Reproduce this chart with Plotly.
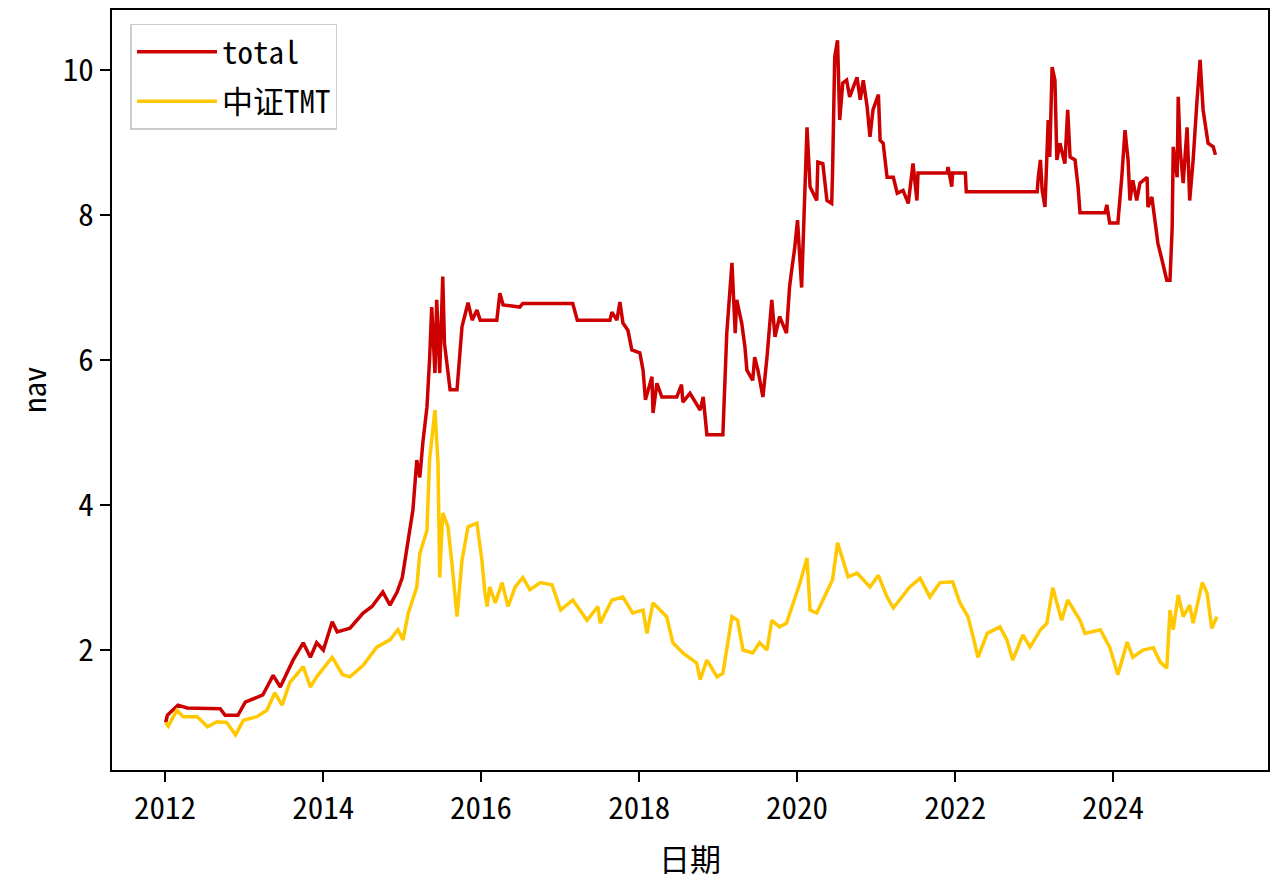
import plotly.graph_objects as go

# ---- data ----
total_dates = [
    "2012-01-04", "2012-01-12", "2012-03-01", "2012-04-12", "2012-09-12", "2012-10-05", "2012-12-03",
    "2013-01-06", "2013-03-28", "2013-05-15", "2013-06-17", "2013-08-15", "2013-10-01", "2013-11-03",
    "2013-12-02", "2014-01-02", "2014-02-12", "2014-03-07", "2014-05-05", "2014-07-05", "2014-08-15",
    "2014-10-04", "2014-11-06", "2014-12-09", "2015-01-02", "2015-01-23", "2015-02-20", "2015-03-10",
    "2015-03-24", "2015-04-07", "2015-04-26", "2015-05-08", "2015-05-18", "2015-06-02", "2015-06-10",
    "2015-06-24", "2015-07-08", "2015-07-16", "2015-08-11", "2015-09-12", "2015-10-05", "2015-11-02",
    "2015-11-21", "2015-12-13", "2015-12-28", "2016-03-14", "2016-03-28", "2016-04-12", "2016-06-28",
    "2016-07-12", "2017-02-28", "2017-03-21", "2017-08-19", "2017-08-28", "2017-09-20", "2017-10-04",
    "2017-10-18", "2017-11-10", "2017-11-28", "2018-01-04", "2018-01-19", "2018-01-30", "2018-03-01",
    "2018-03-06", "2018-03-24", "2018-04-16", "2018-06-24", "2018-07-16", "2018-07-22", "2018-08-24",
    "2018-10-10", "2018-10-24", "2018-11-10", "2019-01-23", "2019-02-10", "2019-03-06", "2019-03-21",
    "2019-03-28", "2019-04-20", "2019-05-05", "2019-05-14", "2019-06-10", "2019-06-19", "2019-07-04",
    "2019-07-27", "2019-08-15", "2019-09-06", "2019-09-21", "2019-10-12", "2019-11-13", "2019-11-27",
    "2019-12-07", "2019-12-20", "2020-01-03", "2020-01-22", "2020-02-16", "2020-03-01", "2020-04-01",
    "2020-04-06", "2020-04-29", "2020-05-18", "2020-06-09", "2020-06-13", "2020-06-23", "2020-07-06",
    "2020-07-16", "2020-07-30", "2020-08-17", "2020-08-31", "2020-10-04", "2020-10-19", "2020-11-02",
    "2020-11-20", "2020-12-03", "2020-12-17", "2021-01-11", "2021-01-19", "2021-02-02", "2021-02-20",
    "2021-03-21", "2021-04-08", "2021-05-05", "2021-05-29", "2021-06-20", "2021-07-08", "2021-07-13",
    "2021-11-24", "2021-11-29", "2021-12-16", "2021-12-20", "2022-02-17", "2022-02-21", "2023-01-15",
    "2023-01-20", "2023-01-30", "2023-02-07", "2023-02-20", "2023-03-07", "2023-03-14", "2023-03-25",
    "2023-04-07", "2023-04-16", "2023-04-30", "2023-05-23", "2023-06-05", "2023-06-16", "2023-07-09",
    "2023-07-23", "2023-08-01", "2023-11-24", "2023-12-03", "2023-12-16", "2024-01-23", "2024-02-10",
    "2024-02-25", "2024-03-10", "2024-03-19", "2024-04-01", "2024-04-19", "2024-05-04", "2024-06-06",
    "2024-06-10", "2024-06-28", "2024-07-12", "2024-07-26", "2024-08-14", "2024-09-05", "2024-09-20",
    "2024-09-30", "2024-10-05", "2024-10-23", "2024-10-28", "2024-11-06", "2024-11-20", "2024-12-08",
    "2024-12-20", "2025-01-05", "2025-01-23", "2025-02-06", "2025-02-20", "2025-03-15", "2025-04-08",
    "2025-04-18",
]
total_nav = [
    1.00, 1.10, 1.24, 1.20, 1.19, 1.10, 1.10,
    1.28, 1.38, 1.65, 1.49, 1.86, 2.10, 1.90,
    2.10, 2.00, 2.39, 2.25, 2.30, 2.51, 2.60,
    2.80, 2.62, 2.80, 3.00, 3.38, 3.93, 4.62,
    4.38, 4.86, 5.35, 6.00, 6.73, 5.82, 6.83,
    5.82, 7.15, 6.23, 5.59, 5.59, 6.46, 6.79,
    6.55, 6.69, 6.55, 6.55, 6.92, 6.76, 6.73,
    6.78, 6.78, 6.55, 6.55, 6.66, 6.55, 6.80,
    6.51, 6.41, 6.14, 6.10, 5.86, 5.45, 5.77,
    5.27, 5.68, 5.49, 5.49, 5.66, 5.42, 5.54,
    5.31, 5.49, 4.97, 4.97, 6.37, 7.34, 6.37,
    6.83, 6.51, 6.18, 5.86, 5.72, 6.04, 5.86,
    5.49, 6.04, 6.83, 6.32, 6.60, 6.37, 7.00,
    7.24, 7.52, 7.93, 7.00, 9.21, 8.39, 8.20,
    8.73, 8.71, 8.20, 8.16, 8.58, 10.18, 10.41,
    9.31, 9.82, 9.86, 9.63, 9.90, 9.59, 9.86,
    9.49, 9.08, 9.45, 9.66, 9.03, 8.99, 8.52,
    8.52, 8.30, 8.34, 8.16, 8.71, 8.20, 8.58,
    8.58, 8.66, 8.39, 8.58, 8.58, 8.32, 8.32,
    8.52, 8.76, 8.34, 8.11, 9.31, 8.80, 10.04,
    9.86, 8.76, 8.99, 8.71, 9.45, 8.80, 8.76,
    8.39, 8.03, 8.03, 8.14, 7.89, 7.89, 8.52,
    9.17, 8.76, 8.20, 8.48, 8.20, 8.44, 8.52,
    8.11, 8.25, 7.93, 7.61, 7.38, 7.10, 7.10,
    7.83, 8.94, 8.52, 9.63, 8.90, 8.44, 9.21,
    8.20, 8.76, 9.59, 10.14, 9.45, 8.99, 8.94,
    8.83,
]

tmt_dates = [
    "2012-01-04", "2012-01-16", "2012-02-25", "2012-03-25", "2012-05-29", "2012-07-16", "2012-08-28",
    "2012-10-12", "2012-11-22", "2012-12-28", "2013-03-01", "2013-04-16", "2013-05-23", "2013-06-25",
    "2013-07-31", "2013-10-01", "2013-11-03", "2013-12-02", "2014-02-12", "2014-04-01", "2014-05-05",
    "2014-07-05", "2014-09-06", "2014-11-06", "2014-12-13", "2015-01-05", "2015-01-30", "2015-03-10",
    "2015-03-24", "2015-04-26", "2015-05-08", "2015-06-02", "2015-06-16", "2015-06-24", "2015-07-08",
    "2015-08-01", "2015-08-18", "2015-09-01", "2015-09-12", "2015-10-05", "2015-11-02", "2015-12-13",
    "2016-01-05", "2016-01-19", "2016-01-29", "2016-02-10", "2016-03-07", "2016-04-07", "2016-05-05",
    "2016-06-07", "2016-07-12", "2016-08-14", "2016-10-01", "2016-11-24", "2017-01-03", "2017-02-28",
    "2017-05-05", "2017-06-24", "2017-07-05", "2017-08-28", "2017-10-18", "2017-12-02", "2018-01-19",
    "2018-02-06", "2018-03-06", "2018-05-08", "2018-06-06", "2018-07-22", "2018-09-24", "2018-10-10",
    "2018-11-10", "2018-12-27", "2019-01-23", "2019-03-06", "2019-04-01", "2019-04-26", "2019-06-10",
    "2019-07-12", "2019-08-15", "2019-09-06", "2019-10-12", "2019-11-13", "2019-12-13", "2020-01-15",
    "2020-02-16", "2020-03-01", "2020-04-01", "2020-05-18", "2020-06-13", "2020-07-06", "2020-07-26",
    "2020-08-24", "2020-10-04", "2020-12-03", "2021-01-11", "2021-02-20", "2021-03-21", "2021-04-19",
    "2021-06-05", "2021-07-23", "2021-09-06", "2021-10-23", "2021-12-20", "2022-01-23", "2022-03-01",
    "2022-03-25", "2022-04-16", "2022-05-29", "2022-07-27", "2022-08-28", "2022-09-24", "2022-11-10",
    "2022-12-13", "2023-01-30", "2023-03-01", "2023-03-28", "2023-05-08", "2023-06-05", "2023-08-01",
    "2023-08-24", "2023-11-03", "2023-12-16", "2024-01-23", "2024-03-06", "2024-04-01", "2024-05-18",
    "2024-07-05", "2024-08-04", "2024-09-05", "2024-09-20", "2024-10-05", "2024-10-28", "2024-11-20",
    "2024-12-20", "2025-01-05", "2025-02-16", "2025-03-10", "2025-04-01", "2025-04-25",
]
tmt_nav = [
    1.00, 0.95, 1.17, 1.08, 1.08, 0.94, 1.01,
    1.00, 0.83, 1.03, 1.08, 1.17, 1.41, 1.24,
    1.55, 1.77, 1.49, 1.63, 1.90, 1.66, 1.63,
    1.79, 2.04, 2.14, 2.28, 2.14, 2.51, 2.87,
    3.33, 3.65, 4.62, 5.31, 4.58, 3.00, 3.89,
    3.70, 3.24, 2.79, 2.46, 3.24, 3.70, 3.75,
    3.24, 2.79, 2.60, 2.87, 2.65, 2.93, 2.60,
    2.87, 3.00, 2.83, 2.93, 2.90, 2.55, 2.69,
    2.41, 2.60, 2.37, 2.69, 2.73, 2.51, 2.55,
    2.23, 2.65, 2.46, 2.10, 1.96, 1.82, 1.59,
    1.86, 1.63, 1.68, 2.46, 2.41, 2.00, 1.96,
    2.10, 2.00, 2.41, 2.32, 2.37, 2.65, 2.93,
    3.27, 2.55, 2.51, 2.79, 2.97, 3.48, 3.28,
    3.01, 3.06, 2.87, 3.03, 2.73, 2.58, 2.69,
    2.87, 2.99, 2.73, 2.93, 2.94, 2.65, 2.46,
    2.18, 1.90, 2.23, 2.32, 2.14, 1.86, 2.21,
    2.04, 2.28, 2.37, 2.86, 2.41, 2.69, 2.41,
    2.23, 2.28, 2.04, 1.66, 2.11, 1.90, 2.00,
    2.03, 1.84, 1.75, 2.55, 2.28, 2.76, 2.46,
    2.62, 2.37, 2.93, 2.79, 2.30, 2.46,
]

x_ticks = ["2012-01-01", "2014-01-01", "2016-01-01", "2018-01-01",
           "2020-01-01", "2022-01-01", "2024-01-01"]
x_tick_labels = ["2012", "2014", "2016", "2018", "2020", "2022", "2024"]
y_ticks = [2, 4, 6, 8, 10]
x_title = "日期"
y_title = "nav"

FONT = "Noto Sans Mono CJK SC, Noto Sans CJK SC, DejaVu Sans Mono, monospace"
FS = 31

fig = go.Figure()
fig.add_trace(go.Scatter(x=total_dates, y=total_nav, mode="lines", name="total",
                         legendgroup="a", line=dict(color="#cc0000", width=3.5)))
fig.add_trace(go.Scatter(x=tmt_dates, y=tmt_nav, mode="lines", name="中证TMT",
                         legendgroup="b", line=dict(color="#ffc800", width=3.5)))

axis_common = dict(showline=True, mirror=True, linecolor="black", linewidth=2,
                   ticks="outside", ticklen=10, tickwidth=2, tickcolor="black",
                   showgrid=False, zeroline=False,
                   tickfont=dict(family=FONT, size=FS, color="black"))

# the page body adds an 8px offset, so the figure is sized/positioned to compensate
fig.update_layout(
    width=1270, height=874,
    margin=dict(l=104, r=10, t=2, b=112),
    paper_bgcolor="white", plot_bgcolor="white",
    font=dict(family=FONT, size=FS, color="black"),
    showlegend=True,
    legend=dict(x=0.016, y=0.982, xanchor="left", yanchor="top",
                bgcolor="white", bordercolor="#cccccc", borderwidth=1.5,
                itemwidth=80, tracegroupgap=6,
                font=dict(family=FONT, size=FS, color="black")),
    xaxis=dict(type="date", range=["2011-05-01", "2025-12-17"],
               tickvals=x_ticks, ticktext=x_tick_labels,
               automargin=False, **axis_common),
    yaxis=dict(range=[0.345, 10.828], tickvals=y_ticks,
               automargin=False, **axis_common),
    annotations=[
        dict(text=x_title, xref="paper", yref="paper", x=0.5, y=0,
             xanchor="center", yanchor="middle", yshift=-87, showarrow=False,
             borderpad=0, font=dict(family=FONT, size=FS, color="black")),
        dict(text=y_title, xref="paper", yref="paper", x=0, y=0.5,
             xanchor="center", yanchor="middle", xshift=-80, textangle=-90,
             showarrow=False, borderpad=0,
             font=dict(family=FONT, size=FS, color="black")),
    ],
)

fig.write_html("out.html")
